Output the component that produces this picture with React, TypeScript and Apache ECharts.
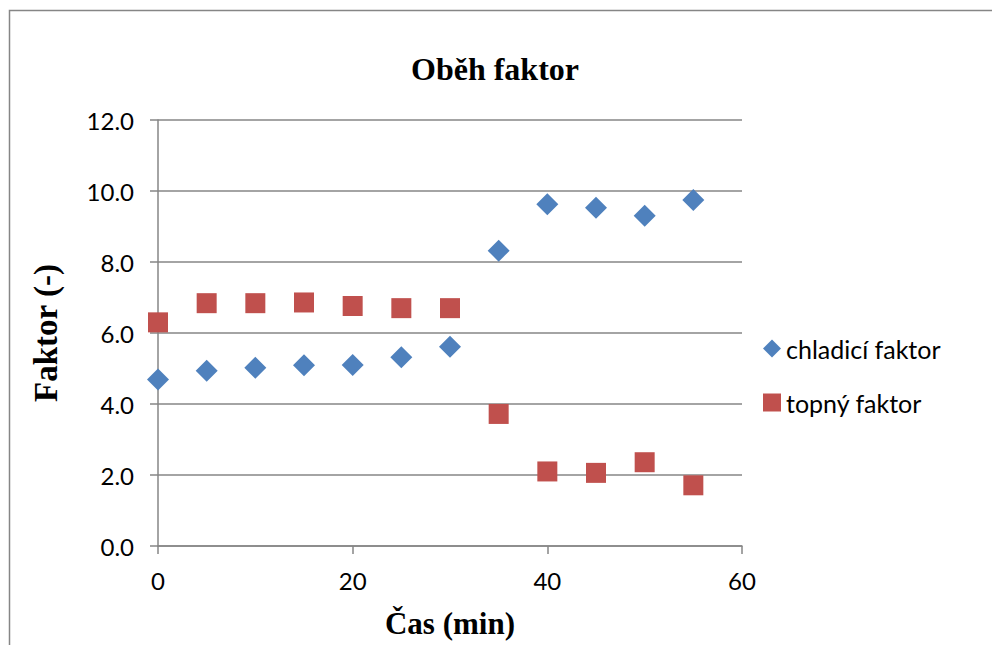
import React, { useEffect, useRef } from "react";
import * as echarts from "echarts";

// Time in minutes
const casMin = [0, 5, 10, 15, 20, 25, 30, 35, 40, 45, 50, 55];
// Cooling factor (chladicí faktor)
const chladiciFaktor = [4.69, 4.94, 5.02, 5.09, 5.10, 5.32, 5.61, 8.32, 9.63, 9.53, 9.30, 9.75];
// Heating factor (topný faktor)
const topnyFaktor = [6.30, 6.84, 6.84, 6.86, 6.76, 6.70, 6.70, 3.72, 2.10, 2.06, 2.36, 1.71];

const seriesNames = ["chladicí faktor", "topný faktor"];
const titleText = "Oběh faktor";
const xAxisName = "Čas (min)";
const yAxisName = "Faktor (-)";

const BLUE = "#4F81BD";
const RED = "#C0504D";
const AXIS = "#868686";
const SANS = "Lato, 'Liberation Sans', sans-serif";
const SERIF = "'Liberation Serif', 'DejaVu Serif', serif";

export default function App() {
  const ref = useRef<HTMLDivElement>(null);

  useEffect(() => {
    if (!ref.current) return;
    const chart = echarts.init(ref.current, undefined, { renderer: "svg" });
    chart.setOption({
      animation: false,
      backgroundColor: "#ffffff",
      graphic: [
        {
          type: "rect",
          shape: { x: 9.5, y: 10.5, width: 1000, height: 700 },
          style: { fill: "none", stroke: AXIS, lineWidth: 1.5 },
          silent: true,
          z: -1,
        },
        {
          type: "text",
          x: 495,
          y: 69,
          style: {
            text: titleText,
            font: `bold 32px ${SERIF}`,
            fill: "#000",
            align: "center",
            verticalAlign: "middle",
          },
        },
      ],
      grid: { left: 158, right: 250, top: 120, bottom: 99, containLabel: false },
      legend: {
        orient: "vertical",
        left: 763,
        top: 336,
        padding: 0,
        itemWidth: 18,
        itemHeight: 18,
        itemGap: 29,
        textStyle: { fontFamily: SANS, fontSize: 25, color: "#000", lineHeight: 25 },
        data: [
          { name: seriesNames[0], icon: "diamond" },
          { name: seriesNames[1], icon: "rect" },
        ],
      },
      xAxis: {
        type: "value",
        min: 0,
        max: 60,
        interval: 20,
        name: xAxisName,
        nameLocation: "middle",
        nameGap: 62,
        nameTextStyle: { fontFamily: SERIF, fontWeight: "bold", fontSize: 31, color: "#000" },
        axisLine: { show: true, onZero: false, lineStyle: { color: AXIS, width: 1.5 } },
        axisTick: { show: true, length: 8, lineStyle: { color: AXIS, width: 1.5 } },
        axisLabel: { fontFamily: SANS, fontSize: 24, color: "#000", margin: 22 },
        splitLine: { show: false },
      },
      yAxis: {
        type: "value",
        min: 0,
        max: 12,
        interval: 2,
        name: yAxisName,
        nameLocation: "middle",
        nameGap: 96,
        nameRotate: 90,
        nameTextStyle: { fontFamily: SERIF, fontWeight: "bold", fontSize: 33, color: "#000" },
        axisLine: { show: true, lineStyle: { color: AXIS, width: 1.5 } },
        axisTick: { show: true, length: 8, lineStyle: { color: AXIS, width: 1.5 } },
        axisLabel: {
          fontFamily: SANS,
          fontSize: 24,
          color: "#000",
          margin: 24,
          formatter: (v: number) => v.toFixed(1),
        },
        splitLine: { show: true, lineStyle: { color: AXIS, width: 1.5 } },
      },
      series: [
        {
          name: seriesNames[0],
          type: "scatter",
          symbol: "diamond",
          symbolSize: 22,
          itemStyle: { color: BLUE, opacity: 1 },
          data: casMin.map((t, i) => [t, chladiciFaktor[i]]),
        },
        {
          name: seriesNames[1],
          type: "scatter",
          symbol: "rect",
          symbolSize: 20,
          itemStyle: { color: RED, opacity: 1 },
          data: casMin.map((t, i) => [t, topnyFaktor[i]]),
        },
      ],
    });
    return () => chart.dispose();
  }, []);

  return (
    <div
      ref={ref}
      style={{ position: "fixed", left: 0, top: 0, width: 992, height: 645 }}
    />
  );
}
